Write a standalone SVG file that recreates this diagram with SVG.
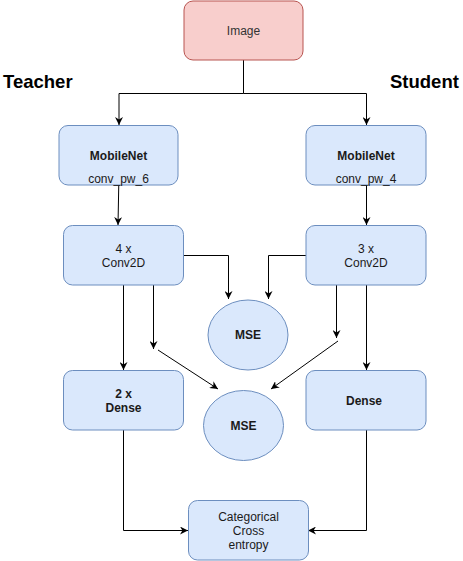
<svg xmlns="http://www.w3.org/2000/svg" width="463" height="561" viewBox="0 0 463 561">
<style>
.box{fill:#dae8fc;stroke:#6c8ebf;stroke-width:1}
.red{fill:#f8cecc;stroke:#b85450;stroke-width:1}
.t{font-family:"Liberation Sans",Arial,sans-serif;font-size:12px;fill:#1a1a1a;text-anchor:middle;dominant-baseline:central}
.b{font-weight:bold}
.h{font-family:"Liberation Sans",Arial,sans-serif;font-size:18.5px;font-weight:bold;fill:#000}
.c{fill:none;stroke:#000;stroke-width:1}
</style>
<defs>
<marker id="ah" viewBox="0 0 10 10" refX="10" refY="5" markerWidth="8" markerHeight="8" markerUnits="userSpaceOnUse" orient="auto">
<path d="M0,0 L10,5 L0,10 L3,5 Z" fill="#000"/>
</marker>
</defs>
<rect width="463" height="561" fill="#fff"/>
<text class="h" x="3" y="88">Teacher</text>
<text class="h" x="390" y="88">Student</text>
<g id="connectors">
<path class="c" d="M243.5,60 V93.5 H119 V125" marker-end="url(#ah)"/>
<path class="c" d="M243.5,93.5 H366.5 V125" marker-end="url(#ah)"/>
<path class="c" d="M119,172 L118,225" marker-end="url(#ah)"/>
<path class="c" d="M366.5,185 V225" marker-end="url(#ah)"/>
<path class="c" d="M183,255.5 H228.5 V299" marker-end="url(#ah)"/>
<path class="c" d="M306,255.5 H268.5 V299" marker-end="url(#ah)"/>
<path class="c" d="M123.5,285 V370" marker-end="url(#ah)"/>
<path class="c" d="M153.5,285 V349" marker-end="url(#ah)"/>
<path class="c" d="M158,350 L218,389" marker-end="url(#ah)"/>
<path class="c" d="M336.5,285 V338" marker-end="url(#ah)"/>
<path class="c" d="M338,341 L271,389" marker-end="url(#ah)"/>
<path class="c" d="M366.5,285 V370" marker-end="url(#ah)"/>
<path class="c" d="M123.5,430 V530.5 H188" marker-end="url(#ah)"/>
<path class="c" d="M366.5,430 V530.5 H308" marker-end="url(#ah)"/>
</g>
<g id="image">
<rect class="red" x="184" y="1" width="119" height="59" rx="9"/>
<text class="t" x="243.5" y="31" style="fill:#333">Image</text>
</g>
<g id="mobilenet-teacher">
<rect class="box" x="59" y="125.5" width="119" height="59.5" rx="9"/>
<text class="t b" x="118.5" y="156">MobileNet</text>
<text class="t" x="118.5" y="179">conv_pw_6</text>
</g>
<g id="mobilenet-student">
<rect class="box" x="306" y="125.5" width="120" height="59.5" rx="9"/>
<text class="t b" x="366" y="156">MobileNet</text>
<text class="t" x="366" y="179">conv_pw_4</text>
</g>
<g id="conv-teacher">
<rect class="box" x="63.5" y="225.5" width="120" height="59.5" rx="9"/>
<text class="t" x="123.5" y="249">4 x</text>
<text class="t" x="123.5" y="263">Conv2D</text>
</g>
<g id="conv-student">
<rect class="box" x="306" y="225.5" width="120" height="59.5" rx="9"/>
<text class="t" x="366" y="249">3 x</text>
<text class="t" x="366" y="263">Conv2D</text>
</g>
<g id="mse1">
<ellipse class="box" cx="248" cy="335" rx="40" ry="35"/>
<text class="t b" x="248" y="335">MSE</text>
</g>
<g id="dense-teacher">
<rect class="box" x="63.5" y="370.5" width="120" height="59.5" rx="9"/>
<text class="t b" x="123.5" y="394">2 x</text>
<text class="t b" x="123.5" y="408">Dense</text>
</g>
<g id="dense-student">
<rect class="box" x="306" y="370.5" width="120" height="59.5" rx="9"/>
<text class="t b" x="364" y="401">Dense</text>
</g>
<g id="mse2">
<ellipse class="box" cx="243.5" cy="425.5" rx="40" ry="35"/>
<text class="t b" x="243.5" y="425.5">MSE</text>
</g>
<g id="cce">
<rect class="box" x="188.5" y="500.5" width="120" height="59.5" rx="9"/>
<text class="t" x="248.5" y="516.5">Categorical</text>
<text class="t" x="248.5" y="530.5">Cross</text>
<text class="t" x="248.5" y="544.5">entropy</text>
</g>
</svg>
